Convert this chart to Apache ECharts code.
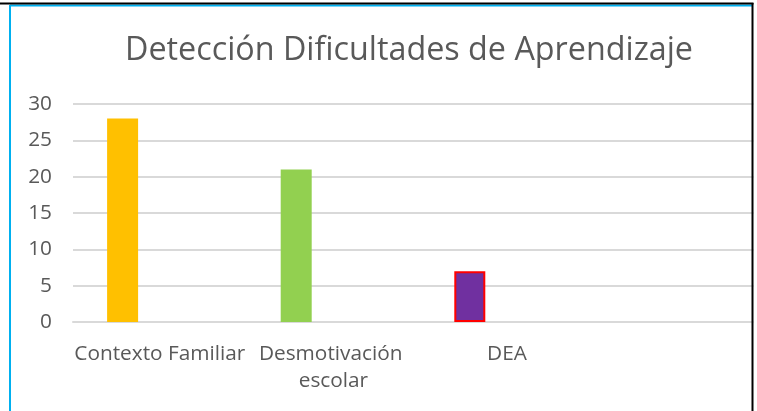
<!DOCTYPE html>
<html>
<head>
<meta charset="utf-8">
<script src="https://cdn.jsdelivr.net/npm/echarts@6/dist/echarts.min.js"></script>
<style>
html,body{margin:0;padding:0;background:#fff;overflow:hidden;width:757px;height:411px;}
#main{width:780px;height:411px;}
</style>
</head>
<body>
<div id="main"></div>
<script>
const titleText = 'Detección Dificultades de Aprendizaje';
const categories = ['Contexto Familiar', 'Desmotivación escolar', 'DEA', ''];
const values = [28, 21, 7, null];
const barColors = ['#FFC000', '#92D050', '#7030A0'];
const barBorders = [null, null, '#FF0000'];
const yTicks = [0, 5, 10, 15, 20, 25, 30];

const chart = echarts.init(document.getElementById('main'), null, {renderer: 'canvas'});
const font = 'Open Sans';
const mainData = values.map((v, i) => ({
  value: v,
  itemStyle: {
    color: barColors[i] || '#000',
    borderColor: barBorders[i] || barColors[i] || '#000',
    borderWidth: barBorders[i] ? 2 : 0
  }
}));
const emptyData = categories.map(() => null);

chart.setOption({
  animation: false,
  backgroundColor: '#fff',
  title: {
    text: titleText,
    left: 120,
    top: 30,
    textStyle: {fontFamily: font, fontSize: 32.3, fontWeight: 'normal', color: '#595959'}
  },
  grid: {left: 73, right: 12.6, top: 104, bottom: 89, containLabel: false},
  xAxis: {
    type: 'category',
    data: categories,
    axisLine: {show: true, lineStyle: {color: '#d9d9d9', width: 2}},
    axisTick: {show: false},
    axisLabel: {
      fontFamily: font, fontSize: 20.8, color: '#595959', margin: 19,
      width: 180, overflow: 'break', lineHeight: 27, interval: 0
    }
  },
  yAxis: {
    type: 'value',
    min: yTicks[0],
    max: yTicks[yTicks.length - 1],
    interval: yTicks[1] - yTicks[0],
    axisLine: {show: false},
    axisTick: {show: false},
    splitLine: {lineStyle: {color: '#d9d9d9', width: 2}},
    axisLabel: {fontFamily: font, fontSize: 20.8, color: '#595959', margin: 21}
  },
  series: [
    {type: 'bar', name: 'Serie 1', data: mainData, barWidth: 31, barGap: '20%'},
    {type: 'bar', name: 'Serie 2', data: emptyData, barWidth: 31, barGap: '20%'},
    {type: 'bar', name: 'Serie 3', data: emptyData, barWidth: 31, barGap: '20%'}
  ],
  graphic: [
    {type: 'rect', z: 100, shape: {x: 753.5, y: 0, width: 30, height: 411}, style: {fill: '#fff'}},
    {type: 'rect', z: 100, shape: {x: 0, y: 0, width: 780, height: 2.5}, style: {fill: '#fff'}},
    {type: 'line', z: 101, shape: {x1: 10, y1: 5.5, x2: 752, y2: 5.5}, style: {stroke: '#00B0F0', lineWidth: 2}},
    {type: 'line', z: 101, shape: {x1: 10, y1: 5, x2: 10, y2: 411}, style: {stroke: '#00B0F0', lineWidth: 2}},
    {type: 'line', z: 102, shape: {x1: 0, y1: 3.5, x2: 753.5, y2: 3.5}, style: {stroke: '#000', lineWidth: 2}},
    {type: 'line', z: 102, shape: {x1: 752.5, y1: 3, x2: 752.5, y2: 411}, style: {stroke: '#000', lineWidth: 2}}
  ]
});
</script>
</body>
</html>
